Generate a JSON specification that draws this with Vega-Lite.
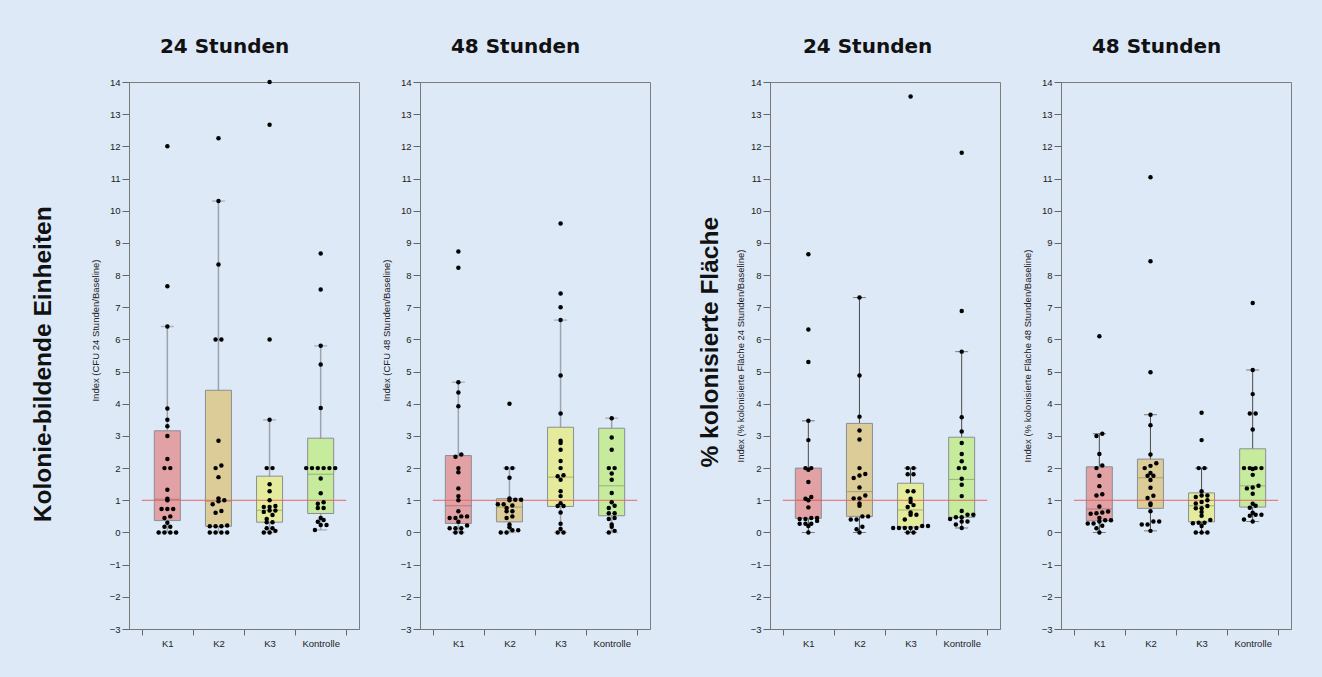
{
"$schema": "https://vega.github.io/schema/vega-lite/v6.json",
"background": "#dde9f7",
"padding": {"left": 31, "top": 36, "right": 31, "bottom": 32},
"spacing": 47,
"config": {
  "view": {"stroke": "#7d7d7d", "strokeWidth": 1},
  "title": {"font": "DejaVu Sans", "fontSize": 20, "fontWeight": "bold", "color": "#111111", "offset": 20, "frame": "bounds"},
  "concat": {"spacing": 20}
},
"datasets": {
"boxes": [
{"p":"cfu24","g":"K1","lo":0,"q1":0.37,"med":1.03,"q3":3.16,"hi":6.4},
{"p":"cfu24","g":"K2","lo":0,"q1":0.19,"med":0.97,"q3":4.42,"hi":10.3},
{"p":"cfu24","g":"K3","lo":0,"q1":0.32,"med":0.69,"q3":1.75,"hi":3.5},
{"p":"cfu24","g":"Kontrolle","lo":0.08,"q1":0.59,"med":1.81,"q3":2.93,"hi":5.8},
{"p":"cfu48","g":"K1","lo":0,"q1":0.28,"med":0.83,"q3":2.39,"hi":4.67},
{"p":"cfu48","g":"K2","lo":0,"q1":0.33,"med":0.79,"q3":1.05,"hi":2.0},
{"p":"cfu48","g":"K3","lo":0,"q1":0.81,"med":1.72,"q3":3.27,"hi":6.6},
{"p":"cfu48","g":"Kontrolle","lo":0,"q1":0.52,"med":1.45,"q3":3.24,"hi":3.55},
{"p":"fl24","g":"K1","lo":0,"q1":0.44,"med":1.0,"q3":2.0,"hi":3.47},
{"p":"fl24","g":"K2","lo":0,"q1":0.5,"med":1.27,"q3":3.39,"hi":7.3},
{"p":"fl24","g":"K3","lo":0,"q1":0.17,"med":0.7,"q3":1.53,"hi":2.0},
{"p":"fl24","g":"Kontrolle","lo":0.14,"q1":0.47,"med":1.65,"q3":2.96,"hi":5.62},
{"p":"fl48","g":"K1","lo":0,"q1":0.36,"med":0.73,"q3":2.04,"hi":3.07},
{"p":"fl48","g":"K2","lo":0.05,"q1":0.75,"med":1.7,"q3":2.28,"hi":3.66},
{"p":"fl48","g":"K3","lo":0,"q1":0.33,"med":0.83,"q3":1.23,"hi":2.0},
{"p":"fl48","g":"Kontrolle","lo":0.34,"q1":0.79,"med":1.45,"q3":2.6,"hi":5.05}
],
"points": [
{"p":"cfu24","g":"K1","v":12},{"p":"cfu24","g":"K1","v":7.65},{"p":"cfu24","g":"K1","v":6.4},{"p":"cfu24","g":"K1","v":3.85},{"p":"cfu24","g":"K1","v":3.5},{"p":"cfu24","g":"K1","v":3.3},{"p":"cfu24","g":"K1","v":3.0},{"p":"cfu24","g":"K1","v":2.28},{"p":"cfu24","g":"K1","v":2.0},{"p":"cfu24","g":"K1","v":2.0},{"p":"cfu24","g":"K1","v":1.33},{"p":"cfu24","g":"K1","v":1.05},{"p":"cfu24","g":"K1","v":1.0},{"p":"cfu24","g":"K1","v":0.73},{"p":"cfu24","g":"K1","v":0.73},{"p":"cfu24","g":"K1","v":0.73},{"p":"cfu24","g":"K1","v":0.5},{"p":"cfu24","g":"K1","v":0.45},{"p":"cfu24","g":"K1","v":0.3},{"p":"cfu24","g":"K1","v":0.18},{"p":"cfu24","g":"K1","v":0.18},{"p":"cfu24","g":"K1","v":0},{"p":"cfu24","g":"K1","v":0},{"p":"cfu24","g":"K1","v":0},{"p":"cfu24","g":"K1","v":0},
{"p":"cfu24","g":"K2","v":12.25},{"p":"cfu24","g":"K2","v":10.3},{"p":"cfu24","g":"K2","v":8.33},{"p":"cfu24","g":"K2","v":6.0},{"p":"cfu24","g":"K2","v":6.0},{"p":"cfu24","g":"K2","v":2.85},{"p":"cfu24","g":"K2","v":2.08},{"p":"cfu24","g":"K2","v":2.0},{"p":"cfu24","g":"K2","v":1.72},{"p":"cfu24","g":"K2","v":1.06},{"p":"cfu24","g":"K2","v":1.0},{"p":"cfu24","g":"K2","v":0.97},{"p":"cfu24","g":"K2","v":0.88},{"p":"cfu24","g":"K2","v":0.67},{"p":"cfu24","g":"K2","v":0.61},{"p":"cfu24","g":"K2","v":0.22},{"p":"cfu24","g":"K2","v":0.19},{"p":"cfu24","g":"K2","v":0.19},{"p":"cfu24","g":"K2","v":0.19},{"p":"cfu24","g":"K2","v":0},{"p":"cfu24","g":"K2","v":0},{"p":"cfu24","g":"K2","v":0},{"p":"cfu24","g":"K2","v":0},
{"p":"cfu24","g":"K3","v":14.0},{"p":"cfu24","g":"K3","v":12.67},{"p":"cfu24","g":"K3","v":6.0},{"p":"cfu24","g":"K3","v":3.5},{"p":"cfu24","g":"K3","v":2.0},{"p":"cfu24","g":"K3","v":2.0},{"p":"cfu24","g":"K3","v":1.5},{"p":"cfu24","g":"K3","v":1.28},{"p":"cfu24","g":"K3","v":1.0},{"p":"cfu24","g":"K3","v":0.82},{"p":"cfu24","g":"K3","v":0.79},{"p":"cfu24","g":"K3","v":0.79},{"p":"cfu24","g":"K3","v":0.68},{"p":"cfu24","g":"K3","v":0.68},{"p":"cfu24","g":"K3","v":0.64},{"p":"cfu24","g":"K3","v":0.54},{"p":"cfu24","g":"K3","v":0.42},{"p":"cfu24","g":"K3","v":0.32},{"p":"cfu24","g":"K3","v":0.32},{"p":"cfu24","g":"K3","v":0.13},{"p":"cfu24","g":"K3","v":0.13},{"p":"cfu24","g":"K3","v":0.05},{"p":"cfu24","g":"K3","v":0},{"p":"cfu24","g":"K3","v":0},
{"p":"cfu24","g":"Kontrolle","v":8.67},{"p":"cfu24","g":"Kontrolle","v":7.55},{"p":"cfu24","g":"Kontrolle","v":5.8},{"p":"cfu24","g":"Kontrolle","v":5.22},{"p":"cfu24","g":"Kontrolle","v":3.87},{"p":"cfu24","g":"Kontrolle","v":2.0},{"p":"cfu24","g":"Kontrolle","v":2.0},{"p":"cfu24","g":"Kontrolle","v":2.0},{"p":"cfu24","g":"Kontrolle","v":2.0},{"p":"cfu24","g":"Kontrolle","v":2.0},{"p":"cfu24","g":"Kontrolle","v":2.0},{"p":"cfu24","g":"Kontrolle","v":1.68},{"p":"cfu24","g":"Kontrolle","v":1.22},{"p":"cfu24","g":"Kontrolle","v":0.94},{"p":"cfu24","g":"Kontrolle","v":0.89},{"p":"cfu24","g":"Kontrolle","v":0.76},{"p":"cfu24","g":"Kontrolle","v":0.76},{"p":"cfu24","g":"Kontrolle","v":0.45},{"p":"cfu24","g":"Kontrolle","v":0.39},{"p":"cfu24","g":"Kontrolle","v":0.33},{"p":"cfu24","g":"Kontrolle","v":0.23},{"p":"cfu24","g":"Kontrolle","v":0.23},{"p":"cfu24","g":"Kontrolle","v":0.08},
{"p":"cfu48","g":"K1","v":8.73},{"p":"cfu48","g":"K1","v":8.23},{"p":"cfu48","g":"K1","v":4.67},{"p":"cfu48","g":"K1","v":4.35},{"p":"cfu48","g":"K1","v":3.92},{"p":"cfu48","g":"K1","v":2.42},{"p":"cfu48","g":"K1","v":2.35},{"p":"cfu48","g":"K1","v":2.0},{"p":"cfu48","g":"K1","v":1.87},{"p":"cfu48","g":"K1","v":1.37},{"p":"cfu48","g":"K1","v":1.13},{"p":"cfu48","g":"K1","v":1.0},{"p":"cfu48","g":"K1","v":0.66},{"p":"cfu48","g":"K1","v":0.5},{"p":"cfu48","g":"K1","v":0.5},{"p":"cfu48","g":"K1","v":0.45},{"p":"cfu48","g":"K1","v":0.45},{"p":"cfu48","g":"K1","v":0.33},{"p":"cfu48","g":"K1","v":0.22},{"p":"cfu48","g":"K1","v":0.13},{"p":"cfu48","g":"K1","v":0.13},{"p":"cfu48","g":"K1","v":0.13},{"p":"cfu48","g":"K1","v":0},{"p":"cfu48","g":"K1","v":0},
{"p":"cfu48","g":"K2","v":4.0},{"p":"cfu48","g":"K2","v":2.0},{"p":"cfu48","g":"K2","v":2.0},{"p":"cfu48","g":"K2","v":1.7},{"p":"cfu48","g":"K2","v":1.06},{"p":"cfu48","g":"K2","v":1.02},{"p":"cfu48","g":"K2","v":1.02},{"p":"cfu48","g":"K2","v":1.0},{"p":"cfu48","g":"K2","v":0.88},{"p":"cfu48","g":"K2","v":0.88},{"p":"cfu48","g":"K2","v":0.84},{"p":"cfu48","g":"K2","v":0.76},{"p":"cfu48","g":"K2","v":0.66},{"p":"cfu48","g":"K2","v":0.66},{"p":"cfu48","g":"K2","v":0.5},{"p":"cfu48","g":"K2","v":0.45},{"p":"cfu48","g":"K2","v":0.25},{"p":"cfu48","g":"K2","v":0.16},{"p":"cfu48","g":"K2","v":0.07},{"p":"cfu48","g":"K2","v":0.07},{"p":"cfu48","g":"K2","v":0},{"p":"cfu48","g":"K2","v":0},
{"p":"cfu48","g":"K3","v":9.6},{"p":"cfu48","g":"K3","v":7.43},{"p":"cfu48","g":"K3","v":7.0},{"p":"cfu48","g":"K3","v":6.6},{"p":"cfu48","g":"K3","v":4.88},{"p":"cfu48","g":"K3","v":3.7},{"p":"cfu48","g":"K3","v":2.85},{"p":"cfu48","g":"K3","v":2.78},{"p":"cfu48","g":"K3","v":2.57},{"p":"cfu48","g":"K3","v":2.22},{"p":"cfu48","g":"K3","v":2.0},{"p":"cfu48","g":"K3","v":1.78},{"p":"cfu48","g":"K3","v":1.75},{"p":"cfu48","g":"K3","v":1.64},{"p":"cfu48","g":"K3","v":1.28},{"p":"cfu48","g":"K3","v":1.13},{"p":"cfu48","g":"K3","v":0.91},{"p":"cfu48","g":"K3","v":0.82},{"p":"cfu48","g":"K3","v":0.82},{"p":"cfu48","g":"K3","v":0.62},{"p":"cfu48","g":"K3","v":0.27},{"p":"cfu48","g":"K3","v":0.11},{"p":"cfu48","g":"K3","v":0},{"p":"cfu48","g":"K3","v":0},
{"p":"cfu48","g":"Kontrolle","v":3.55},{"p":"cfu48","g":"Kontrolle","v":2.95},{"p":"cfu48","g":"Kontrolle","v":2.57},{"p":"cfu48","g":"Kontrolle","v":2.0},{"p":"cfu48","g":"Kontrolle","v":2.0},{"p":"cfu48","g":"Kontrolle","v":1.83},{"p":"cfu48","g":"Kontrolle","v":1.64},{"p":"cfu48","g":"Kontrolle","v":1.23},{"p":"cfu48","g":"Kontrolle","v":0.94},{"p":"cfu48","g":"Kontrolle","v":0.83},{"p":"cfu48","g":"Kontrolle","v":0.76},{"p":"cfu48","g":"Kontrolle","v":0.6},{"p":"cfu48","g":"Kontrolle","v":0.6},{"p":"cfu48","g":"Kontrolle","v":0.45},{"p":"cfu48","g":"Kontrolle","v":0.42},{"p":"cfu48","g":"Kontrolle","v":0.25},{"p":"cfu48","g":"Kontrolle","v":0.18},{"p":"cfu48","g":"Kontrolle","v":0.05},{"p":"cfu48","g":"Kontrolle","v":0},
{"p":"fl24","g":"K1","v":8.65},{"p":"fl24","g":"K1","v":6.31},{"p":"fl24","g":"K1","v":5.3},{"p":"fl24","g":"K1","v":3.47},{"p":"fl24","g":"K1","v":2.87},{"p":"fl24","g":"K1","v":2.0},{"p":"fl24","g":"K1","v":2.0},{"p":"fl24","g":"K1","v":1.95},{"p":"fl24","g":"K1","v":1.57},{"p":"fl24","g":"K1","v":1.1},{"p":"fl24","g":"K1","v":1.05},{"p":"fl24","g":"K1","v":1.0},{"p":"fl24","g":"K1","v":0.78},{"p":"fl24","g":"K1","v":0.45},{"p":"fl24","g":"K1","v":0.45},{"p":"fl24","g":"K1","v":0.42},{"p":"fl24","g":"K1","v":0.42},{"p":"fl24","g":"K1","v":0.36},{"p":"fl24","g":"K1","v":0.27},{"p":"fl24","g":"K1","v":0.27},{"p":"fl24","g":"K1","v":0.27},{"p":"fl24","g":"K1","v":0.2},{"p":"fl24","g":"K1","v":0},
{"p":"fl24","g":"K2","v":7.3},{"p":"fl24","g":"K2","v":4.88},{"p":"fl24","g":"K2","v":3.6},{"p":"fl24","g":"K2","v":3.17},{"p":"fl24","g":"K2","v":2.89},{"p":"fl24","g":"K2","v":2.0},{"p":"fl24","g":"K2","v":1.82},{"p":"fl24","g":"K2","v":1.77},{"p":"fl24","g":"K2","v":1.69},{"p":"fl24","g":"K2","v":1.4},{"p":"fl24","g":"K2","v":1.15},{"p":"fl24","g":"K2","v":1.06},{"p":"fl24","g":"K2","v":1.06},{"p":"fl24","g":"K2","v":0.9},{"p":"fl24","g":"K2","v":0.83},{"p":"fl24","g":"K2","v":0.5},{"p":"fl24","g":"K2","v":0.5},{"p":"fl24","g":"K2","v":0.4},{"p":"fl24","g":"K2","v":0.4},{"p":"fl24","g":"K2","v":0.18},{"p":"fl24","g":"K2","v":0.1},{"p":"fl24","g":"K2","v":0},
{"p":"fl24","g":"K3","v":13.55},{"p":"fl24","g":"K3","v":2.0},{"p":"fl24","g":"K3","v":2.0},{"p":"fl24","g":"K3","v":1.81},{"p":"fl24","g":"K3","v":1.81},{"p":"fl24","g":"K3","v":1.28},{"p":"fl24","g":"K3","v":1.28},{"p":"fl24","g":"K3","v":1.05},{"p":"fl24","g":"K3","v":0.95},{"p":"fl24","g":"K3","v":0.85},{"p":"fl24","g":"K3","v":0.79},{"p":"fl24","g":"K3","v":0.62},{"p":"fl24","g":"K3","v":0.55},{"p":"fl24","g":"K3","v":0.55},{"p":"fl24","g":"K3","v":0.4},{"p":"fl24","g":"K3","v":0.2},{"p":"fl24","g":"K3","v":0.2},{"p":"fl24","g":"K3","v":0.14},{"p":"fl24","g":"K3","v":0.14},{"p":"fl24","g":"K3","v":0.14},{"p":"fl24","g":"K3","v":0.14},{"p":"fl24","g":"K3","v":0.14},{"p":"fl24","g":"K3","v":0},{"p":"fl24","g":"K3","v":0},
{"p":"fl24","g":"Kontrolle","v":11.8},{"p":"fl24","g":"Kontrolle","v":6.88},{"p":"fl24","g":"Kontrolle","v":5.62},{"p":"fl24","g":"Kontrolle","v":3.58},{"p":"fl24","g":"Kontrolle","v":3.14},{"p":"fl24","g":"Kontrolle","v":2.78},{"p":"fl24","g":"Kontrolle","v":2.44},{"p":"fl24","g":"Kontrolle","v":2.21},{"p":"fl24","g":"Kontrolle","v":2.0},{"p":"fl24","g":"Kontrolle","v":2.0},{"p":"fl24","g":"Kontrolle","v":1.67},{"p":"fl24","g":"Kontrolle","v":1.48},{"p":"fl24","g":"Kontrolle","v":1.13},{"p":"fl24","g":"Kontrolle","v":0.67},{"p":"fl24","g":"Kontrolle","v":0.55},{"p":"fl24","g":"Kontrolle","v":0.55},{"p":"fl24","g":"Kontrolle","v":0.47},{"p":"fl24","g":"Kontrolle","v":0.47},{"p":"fl24","g":"Kontrolle","v":0.42},{"p":"fl24","g":"Kontrolle","v":0.34},{"p":"fl24","g":"Kontrolle","v":0.34},{"p":"fl24","g":"Kontrolle","v":0.25},{"p":"fl24","g":"Kontrolle","v":0.14},
{"p":"fl48","g":"K1","v":6.1},{"p":"fl48","g":"K1","v":3.07},{"p":"fl48","g":"K1","v":3.0},{"p":"fl48","g":"K1","v":2.44},{"p":"fl48","g":"K1","v":2.08},{"p":"fl48","g":"K1","v":2.0},{"p":"fl48","g":"K1","v":1.76},{"p":"fl48","g":"K1","v":1.44},{"p":"fl48","g":"K1","v":1.19},{"p":"fl48","g":"K1","v":1.15},{"p":"fl48","g":"K1","v":0.81},{"p":"fl48","g":"K1","v":0.65},{"p":"fl48","g":"K1","v":0.62},{"p":"fl48","g":"K1","v":0.6},{"p":"fl48","g":"K1","v":0.58},{"p":"fl48","g":"K1","v":0.45},{"p":"fl48","g":"K1","v":0.38},{"p":"fl48","g":"K1","v":0.38},{"p":"fl48","g":"K1","v":0.34},{"p":"fl48","g":"K1","v":0.28},{"p":"fl48","g":"K1","v":0.28},{"p":"fl48","g":"K1","v":0.21},{"p":"fl48","g":"K1","v":0.13},{"p":"fl48","g":"K1","v":0},
{"p":"fl48","g":"K2","v":11.04},{"p":"fl48","g":"K2","v":8.43},{"p":"fl48","g":"K2","v":4.98},{"p":"fl48","g":"K2","v":3.66},{"p":"fl48","g":"K2","v":3.33},{"p":"fl48","g":"K2","v":2.42},{"p":"fl48","g":"K2","v":2.15},{"p":"fl48","g":"K2","v":2.07},{"p":"fl48","g":"K2","v":2.0},{"p":"fl48","g":"K2","v":1.85},{"p":"fl48","g":"K2","v":1.76},{"p":"fl48","g":"K2","v":1.76},{"p":"fl48","g":"K2","v":1.63},{"p":"fl48","g":"K2","v":1.39},{"p":"fl48","g":"K2","v":1.14},{"p":"fl48","g":"K2","v":1.07},{"p":"fl48","g":"K2","v":0.9},{"p":"fl48","g":"K2","v":0.85},{"p":"fl48","g":"K2","v":0.66},{"p":"fl48","g":"K2","v":0.34},{"p":"fl48","g":"K2","v":0.34},{"p":"fl48","g":"K2","v":0.25},{"p":"fl48","g":"K2","v":0.25},{"p":"fl48","g":"K2","v":0.05},
{"p":"fl48","g":"K3","v":3.72},{"p":"fl48","g":"K3","v":2.87},{"p":"fl48","g":"K3","v":2.0},{"p":"fl48","g":"K3","v":2.0},{"p":"fl48","g":"K3","v":1.28},{"p":"fl48","g":"K3","v":1.15},{"p":"fl48","g":"K3","v":1.15},{"p":"fl48","g":"K3","v":1.1},{"p":"fl48","g":"K3","v":1.0},{"p":"fl48","g":"K3","v":0.95},{"p":"fl48","g":"K3","v":0.9},{"p":"fl48","g":"K3","v":0.82},{"p":"fl48","g":"K3","v":0.75},{"p":"fl48","g":"K3","v":0.75},{"p":"fl48","g":"K3","v":0.64},{"p":"fl48","g":"K3","v":0.52},{"p":"fl48","g":"K3","v":0.39},{"p":"fl48","g":"K3","v":0.3},{"p":"fl48","g":"K3","v":0.3},{"p":"fl48","g":"K3","v":0.29},{"p":"fl48","g":"K3","v":0.2},{"p":"fl48","g":"K3","v":0},{"p":"fl48","g":"K3","v":0},{"p":"fl48","g":"K3","v":0},
{"p":"fl48","g":"Kontrolle","v":7.13},{"p":"fl48","g":"Kontrolle","v":5.05},{"p":"fl48","g":"Kontrolle","v":4.3},{"p":"fl48","g":"Kontrolle","v":3.7},{"p":"fl48","g":"Kontrolle","v":3.7},{"p":"fl48","g":"Kontrolle","v":3.2},{"p":"fl48","g":"Kontrolle","v":2.0},{"p":"fl48","g":"Kontrolle","v":2.0},{"p":"fl48","g":"Kontrolle","v":2.0},{"p":"fl48","g":"Kontrolle","v":2.0},{"p":"fl48","g":"Kontrolle","v":1.97},{"p":"fl48","g":"Kontrolle","v":1.79},{"p":"fl48","g":"Kontrolle","v":1.45},{"p":"fl48","g":"Kontrolle","v":1.4},{"p":"fl48","g":"Kontrolle","v":1.37},{"p":"fl48","g":"Kontrolle","v":1.2},{"p":"fl48","g":"Kontrolle","v":0.89},{"p":"fl48","g":"Kontrolle","v":0.83},{"p":"fl48","g":"Kontrolle","v":0.77},{"p":"fl48","g":"Kontrolle","v":0.61},{"p":"fl48","g":"Kontrolle","v":0.55},{"p":"fl48","g":"Kontrolle","v":0.55},{"p":"fl48","g":"Kontrolle","v":0.52},{"p":"fl48","g":"Kontrolle","v":0.4},{"p":"fl48","g":"Kontrolle","v":0.34}
]
},
"hconcat": [
{
 "title": {"text": "Kolonie-bildende Einheiten", "orient": "left", "font": "Liberation Sans", "fontSize": 24.5, "fontWeight": "bold", "color": "#111111", "offset": 33, "anchor": "middle", "dx": -22},
 "spacing": 20,
 "hconcat": [
  {
   "width": 230, "height": 547,
   "title": {"text": "24 Stunden"},
   "encoding": {"x": {"field": "g", "type": "nominal", "title": null, "scale": {"domain": ["K1","K2","K3","Kontrolle"], "paddingInner": 0, "paddingOuter": 0.25}, "axis": {"labelAngle": 0, "tickBand": "extent", "tickSize": 6, "tickColor": "#666666", "domainColor": "#777777", "labelFont": "Liberation Sans", "labelFontSize": 9.5, "labelColor": "#222222", "labelPadding": 3}}},
   "layer": [
    {"data": {"name": "boxes"}, "transform": [{"filter": "datum.p === 'cfu24'"}], "mark": {"type": "rule", "color": "#9ba3ad", "strokeWidth": 1.5},
     "encoding": {"y": {"field": "lo", "type": "quantitative", "scale": {"domain": [-3, 14], "nice": false, "zero": false}, "title": "Index (CFU 24 Stunden/Baseline)", "axis": {"values": [-3,-2.5,-2,-1.5,-1,-0.5,0,0.5,1,1.5,2,2.5,3,3.5,4,4.5,5,5.5,6,6.5,7,7.5,8,8.5,9,9.5,10,10.5,11,11.5,12,12.5,13,13.5,14], "format": "d", "labelExpr": "datum.value % 1 === 0 ? datum.label : ''", "tickSize": {"condition": {"test": "datum.value % 1 !== 0", "value": 4}, "value": 7}, "grid": false, "labelFont": "Liberation Sans", "labelFontSize": 9.5, "labelColor": "#222222", "labelPadding": 2, "tickColor": "#666666", "domainColor": "#777777", "titleFont": "Liberation Sans", "titleFontSize": 9.5, "titleFontWeight": "normal", "titleColor": "#222222", "titlePadding": 9, "titleY": 248}}, "y2": {"field": "hi"}}},
    {"data": {"name": "boxes"}, "transform": [{"filter": "datum.p === 'cfu24'"}], "mark": {"type": "tick", "color": "#9ba3ad", "size": 13, "thickness": 1.5},
     "encoding": {"y": {"field": "lo", "type": "quantitative", "scale": {"domain": [-3, 14], "nice": false, "zero": false}, "title": "Index (CFU 24 Stunden/Baseline)", "axis": {"values": [-3,-2.5,-2,-1.5,-1,-0.5,0,0.5,1,1.5,2,2.5,3,3.5,4,4.5,5,5.5,6,6.5,7,7.5,8,8.5,9,9.5,10,10.5,11,11.5,12,12.5,13,13.5,14], "format": "d", "labelExpr": "datum.value % 1 === 0 ? datum.label : ''", "tickSize": {"condition": {"test": "datum.value % 1 !== 0", "value": 4}, "value": 7}, "grid": false, "labelFont": "Liberation Sans", "labelFontSize": 9.5, "labelColor": "#222222", "labelPadding": 2, "tickColor": "#666666", "domainColor": "#777777", "titleFont": "Liberation Sans", "titleFontSize": 9.5, "titleFontWeight": "normal", "titleColor": "#222222", "titlePadding": 9, "titleY": 248}}}},
    {"data": {"name": "boxes"}, "transform": [{"filter": "datum.p === 'cfu24'"}], "mark": {"type": "tick", "color": "#9ba3ad", "size": 13, "thickness": 1.5},
     "encoding": {"y": {"field": "hi", "type": "quantitative", "scale": {"domain": [-3, 14], "nice": false, "zero": false}, "title": "Index (CFU 24 Stunden/Baseline)", "axis": {"values": [-3,-2.5,-2,-1.5,-1,-0.5,0,0.5,1,1.5,2,2.5,3,3.5,4,4.5,5,5.5,6,6.5,7,7.5,8,8.5,9,9.5,10,10.5,11,11.5,12,12.5,13,13.5,14], "format": "d", "labelExpr": "datum.value % 1 === 0 ? datum.label : ''", "tickSize": {"condition": {"test": "datum.value % 1 !== 0", "value": 4}, "value": 7}, "grid": false, "labelFont": "Liberation Sans", "labelFontSize": 9.5, "labelColor": "#222222", "labelPadding": 2, "tickColor": "#666666", "domainColor": "#777777", "titleFont": "Liberation Sans", "titleFontSize": 9.5, "titleFontWeight": "normal", "titleColor": "#222222", "titlePadding": 9, "titleY": 248}}}},
    {"data": {"name": "boxes"}, "transform": [{"filter": "datum.p === 'cfu24'"}], "mark": {"type": "bar", "width": 26, "stroke": "#8a8f96", "strokeWidth": 1},
     "encoding": {"y": {"field": "q1", "type": "quantitative", "scale": {"domain": [-3, 14], "nice": false, "zero": false}, "title": "Index (CFU 24 Stunden/Baseline)", "axis": {"values": [-3,-2.5,-2,-1.5,-1,-0.5,0,0.5,1,1.5,2,2.5,3,3.5,4,4.5,5,5.5,6,6.5,7,7.5,8,8.5,9,9.5,10,10.5,11,11.5,12,12.5,13,13.5,14], "format": "d", "labelExpr": "datum.value % 1 === 0 ? datum.label : ''", "tickSize": {"condition": {"test": "datum.value % 1 !== 0", "value": 4}, "value": 7}, "grid": false, "labelFont": "Liberation Sans", "labelFontSize": 9.5, "labelColor": "#222222", "labelPadding": 2, "tickColor": "#666666", "domainColor": "#777777", "titleFont": "Liberation Sans", "titleFontSize": 9.5, "titleFontWeight": "normal", "titleColor": "#222222", "titlePadding": 9, "titleY": 248}}, "y2": {"field": "q3"},
      "color": {"field": "g", "type": "nominal", "scale": {"domain": ["K1","K2","K3","Kontrolle"], "range": ["#e2a1a4","#dccc97","#e4eb9c","#c6eb9d"]}, "legend": null}}},
    {"data": {"name": "boxes"}, "transform": [{"filter": "datum.p === 'cfu24'"}], "mark": {"type": "tick", "size": 26, "thickness": 1},
     "encoding": {"y": {"field": "med", "type": "quantitative", "scale": {"domain": [-3, 14], "nice": false, "zero": false}, "title": "Index (CFU 24 Stunden/Baseline)", "axis": {"values": [-3,-2.5,-2,-1.5,-1,-0.5,0,0.5,1,1.5,2,2.5,3,3.5,4,4.5,5,5.5,6,6.5,7,7.5,8,8.5,9,9.5,10,10.5,11,11.5,12,12.5,13,13.5,14], "format": "d", "labelExpr": "datum.value % 1 === 0 ? datum.label : ''", "tickSize": {"condition": {"test": "datum.value % 1 !== 0", "value": 4}, "value": 7}, "grid": false, "labelFont": "Liberation Sans", "labelFontSize": 9.5, "labelColor": "#222222", "labelPadding": 2, "tickColor": "#666666", "domainColor": "#777777", "titleFont": "Liberation Sans", "titleFontSize": 9.5, "titleFontWeight": "normal", "titleColor": "#222222", "titlePadding": 9, "titleY": 248}},
      "fill": {"field": "g", "type": "nominal", "scale": {"domain": ["K1","K2","K3","Kontrolle"], "range": ["#9d6b6d","#9c8c5c","#93995c","#7f9c62"]}, "legend": null}}},
    {"data": {"values": [{}]}, "mark": {"type": "rule", "color": "#e06a66", "strokeWidth": 1},
     "encoding": {"x": {"datum": "K1", "type": "nominal", "bandPosition": 0}, "x2": {"datum": "Kontrolle", "bandPosition": 1}, "y": {"datum": 1, "type": "quantitative", "scale": {"domain": [-3, 14], "nice": false, "zero": false}, "title": "Index (CFU 24 Stunden/Baseline)", "axis": {"values": [-3,-2.5,-2,-1.5,-1,-0.5,0,0.5,1,1.5,2,2.5,3,3.5,4,4.5,5,5.5,6,6.5,7,7.5,8,8.5,9,9.5,10,10.5,11,11.5,12,12.5,13,13.5,14], "format": "d", "labelExpr": "datum.value % 1 === 0 ? datum.label : ''", "tickSize": {"condition": {"test": "datum.value % 1 !== 0", "value": 4}, "value": 7}, "grid": false, "labelFont": "Liberation Sans", "labelFontSize": 9.5, "labelColor": "#222222", "labelPadding": 2, "tickColor": "#666666", "domainColor": "#777777", "titleFont": "Liberation Sans", "titleFontSize": 9.5, "titleFontWeight": "normal", "titleColor": "#222222", "titlePadding": 9, "titleY": 248}}}},
    {"data": {"name": "points"}, "transform": [{"filter": "datum.p === 'cfu24'"}, {"calculate": "round(datum.v / 0.16)", "as": "bin"}, {"window": [{"op": "row_number", "as": "rk"}], "groupby": ["g", "bin"], "sort": [{"field": "v", "order": "ascending"}]}, {"joinaggregate": [{"op": "count", "as": "n"}], "groupby": ["g", "bin"]}, {"calculate": "datum.rk - (datum.n + 1) / 2", "as": "off"}],
     "mark": {"type": "circle", "color": "#000000", "size": 20, "opacity": 1},
     "encoding": {"y": {"field": "v", "type": "quantitative", "scale": {"domain": [-3, 14], "nice": false, "zero": false}, "title": "Index (CFU 24 Stunden/Baseline)", "axis": {"values": [-3,-2.5,-2,-1.5,-1,-0.5,0,0.5,1,1.5,2,2.5,3,3.5,4,4.5,5,5.5,6,6.5,7,7.5,8,8.5,9,9.5,10,10.5,11,11.5,12,12.5,13,13.5,14], "format": "d", "labelExpr": "datum.value % 1 === 0 ? datum.label : ''", "tickSize": {"condition": {"test": "datum.value % 1 !== 0", "value": 4}, "value": 7}, "grid": false, "labelFont": "Liberation Sans", "labelFontSize": 9.5, "labelColor": "#222222", "labelPadding": 2, "tickColor": "#666666", "domainColor": "#777777", "titleFont": "Liberation Sans", "titleFontSize": 9.5, "titleFontWeight": "normal", "titleColor": "#222222", "titlePadding": 9, "titleY": 248}},
      "xOffset": {"field": "off", "type": "quantitative", "scale": {"domain": [-5, 5], "range": [-3.45, 54.65]}}}}
   ]
  },
  {
   "width": 230, "height": 547,
   "title": {"text": "48 Stunden"},
   "encoding": {"x": {"field": "g", "type": "nominal", "title": null, "scale": {"domain": ["K1","K2","K3","Kontrolle"], "paddingInner": 0, "paddingOuter": 0.25}, "axis": {"labelAngle": 0, "tickBand": "extent", "tickSize": 6, "tickColor": "#666666", "domainColor": "#777777", "labelFont": "Liberation Sans", "labelFontSize": 9.5, "labelColor": "#222222", "labelPadding": 3}}},
   "layer": [
    {"data": {"name": "boxes"}, "transform": [{"filter": "datum.p === 'cfu48'"}], "mark": {"type": "rule", "color": "#9ba3ad", "strokeWidth": 1.5},
     "encoding": {"y": {"field": "lo", "type": "quantitative", "scale": {"domain": [-3, 14], "nice": false, "zero": false}, "title": "Index (CFU 48 Stunden/Baseline)", "axis": {"values": [-3,-2.5,-2,-1.5,-1,-0.5,0,0.5,1,1.5,2,2.5,3,3.5,4,4.5,5,5.5,6,6.5,7,7.5,8,8.5,9,9.5,10,10.5,11,11.5,12,12.5,13,13.5,14], "format": "d", "labelExpr": "datum.value % 1 === 0 ? datum.label : ''", "tickSize": {"condition": {"test": "datum.value % 1 !== 0", "value": 4}, "value": 7}, "grid": false, "labelFont": "Liberation Sans", "labelFontSize": 9.5, "labelColor": "#222222", "labelPadding": 2, "tickColor": "#666666", "domainColor": "#777777", "titleFont": "Liberation Sans", "titleFontSize": 9.5, "titleFontWeight": "normal", "titleColor": "#222222", "titlePadding": 9, "titleY": 248}}, "y2": {"field": "hi"}}},
    {"data": {"name": "boxes"}, "transform": [{"filter": "datum.p === 'cfu48'"}], "mark": {"type": "tick", "color": "#9ba3ad", "size": 13, "thickness": 1.5},
     "encoding": {"y": {"field": "lo", "type": "quantitative", "scale": {"domain": [-3, 14], "nice": false, "zero": false}, "title": "Index (CFU 48 Stunden/Baseline)", "axis": {"values": [-3,-2.5,-2,-1.5,-1,-0.5,0,0.5,1,1.5,2,2.5,3,3.5,4,4.5,5,5.5,6,6.5,7,7.5,8,8.5,9,9.5,10,10.5,11,11.5,12,12.5,13,13.5,14], "format": "d", "labelExpr": "datum.value % 1 === 0 ? datum.label : ''", "tickSize": {"condition": {"test": "datum.value % 1 !== 0", "value": 4}, "value": 7}, "grid": false, "labelFont": "Liberation Sans", "labelFontSize": 9.5, "labelColor": "#222222", "labelPadding": 2, "tickColor": "#666666", "domainColor": "#777777", "titleFont": "Liberation Sans", "titleFontSize": 9.5, "titleFontWeight": "normal", "titleColor": "#222222", "titlePadding": 9, "titleY": 248}}}},
    {"data": {"name": "boxes"}, "transform": [{"filter": "datum.p === 'cfu48'"}], "mark": {"type": "tick", "color": "#9ba3ad", "size": 13, "thickness": 1.5},
     "encoding": {"y": {"field": "hi", "type": "quantitative", "scale": {"domain": [-3, 14], "nice": false, "zero": false}, "title": "Index (CFU 48 Stunden/Baseline)", "axis": {"values": [-3,-2.5,-2,-1.5,-1,-0.5,0,0.5,1,1.5,2,2.5,3,3.5,4,4.5,5,5.5,6,6.5,7,7.5,8,8.5,9,9.5,10,10.5,11,11.5,12,12.5,13,13.5,14], "format": "d", "labelExpr": "datum.value % 1 === 0 ? datum.label : ''", "tickSize": {"condition": {"test": "datum.value % 1 !== 0", "value": 4}, "value": 7}, "grid": false, "labelFont": "Liberation Sans", "labelFontSize": 9.5, "labelColor": "#222222", "labelPadding": 2, "tickColor": "#666666", "domainColor": "#777777", "titleFont": "Liberation Sans", "titleFontSize": 9.5, "titleFontWeight": "normal", "titleColor": "#222222", "titlePadding": 9, "titleY": 248}}}},
    {"data": {"name": "boxes"}, "transform": [{"filter": "datum.p === 'cfu48'"}], "mark": {"type": "bar", "width": 26, "stroke": "#8a8f96", "strokeWidth": 1},
     "encoding": {"y": {"field": "q1", "type": "quantitative", "scale": {"domain": [-3, 14], "nice": false, "zero": false}, "title": "Index (CFU 48 Stunden/Baseline)", "axis": {"values": [-3,-2.5,-2,-1.5,-1,-0.5,0,0.5,1,1.5,2,2.5,3,3.5,4,4.5,5,5.5,6,6.5,7,7.5,8,8.5,9,9.5,10,10.5,11,11.5,12,12.5,13,13.5,14], "format": "d", "labelExpr": "datum.value % 1 === 0 ? datum.label : ''", "tickSize": {"condition": {"test": "datum.value % 1 !== 0", "value": 4}, "value": 7}, "grid": false, "labelFont": "Liberation Sans", "labelFontSize": 9.5, "labelColor": "#222222", "labelPadding": 2, "tickColor": "#666666", "domainColor": "#777777", "titleFont": "Liberation Sans", "titleFontSize": 9.5, "titleFontWeight": "normal", "titleColor": "#222222", "titlePadding": 9, "titleY": 248}}, "y2": {"field": "q3"},
      "color": {"field": "g", "type": "nominal", "scale": {"domain": ["K1","K2","K3","Kontrolle"], "range": ["#e2a1a4","#dccc97","#e4eb9c","#c6eb9d"]}, "legend": null}}},
    {"data": {"name": "boxes"}, "transform": [{"filter": "datum.p === 'cfu48'"}], "mark": {"type": "tick", "size": 26, "thickness": 1},
     "encoding": {"y": {"field": "med", "type": "quantitative", "scale": {"domain": [-3, 14], "nice": false, "zero": false}, "title": "Index (CFU 48 Stunden/Baseline)", "axis": {"values": [-3,-2.5,-2,-1.5,-1,-0.5,0,0.5,1,1.5,2,2.5,3,3.5,4,4.5,5,5.5,6,6.5,7,7.5,8,8.5,9,9.5,10,10.5,11,11.5,12,12.5,13,13.5,14], "format": "d", "labelExpr": "datum.value % 1 === 0 ? datum.label : ''", "tickSize": {"condition": {"test": "datum.value % 1 !== 0", "value": 4}, "value": 7}, "grid": false, "labelFont": "Liberation Sans", "labelFontSize": 9.5, "labelColor": "#222222", "labelPadding": 2, "tickColor": "#666666", "domainColor": "#777777", "titleFont": "Liberation Sans", "titleFontSize": 9.5, "titleFontWeight": "normal", "titleColor": "#222222", "titlePadding": 9, "titleY": 248}},
      "fill": {"field": "g", "type": "nominal", "scale": {"domain": ["K1","K2","K3","Kontrolle"], "range": ["#9d6b6d","#9c8c5c","#93995c","#7f9c62"]}, "legend": null}}},
    {"data": {"values": [{}]}, "mark": {"type": "rule", "color": "#e06a66", "strokeWidth": 1},
     "encoding": {"x": {"datum": "K1", "type": "nominal", "bandPosition": 0}, "x2": {"datum": "Kontrolle", "bandPosition": 1}, "y": {"datum": 1, "type": "quantitative", "scale": {"domain": [-3, 14], "nice": false, "zero": false}, "title": "Index (CFU 48 Stunden/Baseline)", "axis": {"values": [-3,-2.5,-2,-1.5,-1,-0.5,0,0.5,1,1.5,2,2.5,3,3.5,4,4.5,5,5.5,6,6.5,7,7.5,8,8.5,9,9.5,10,10.5,11,11.5,12,12.5,13,13.5,14], "format": "d", "labelExpr": "datum.value % 1 === 0 ? datum.label : ''", "tickSize": {"condition": {"test": "datum.value % 1 !== 0", "value": 4}, "value": 7}, "grid": false, "labelFont": "Liberation Sans", "labelFontSize": 9.5, "labelColor": "#222222", "labelPadding": 2, "tickColor": "#666666", "domainColor": "#777777", "titleFont": "Liberation Sans", "titleFontSize": 9.5, "titleFontWeight": "normal", "titleColor": "#222222", "titlePadding": 9, "titleY": 248}}}},
    {"data": {"name": "points"}, "transform": [{"filter": "datum.p === 'cfu48'"}, {"calculate": "round(datum.v / 0.16)", "as": "bin"}, {"window": [{"op": "row_number", "as": "rk"}], "groupby": ["g", "bin"], "sort": [{"field": "v", "order": "ascending"}]}, {"joinaggregate": [{"op": "count", "as": "n"}], "groupby": ["g", "bin"]}, {"calculate": "datum.rk - (datum.n + 1) / 2", "as": "off"}],
     "mark": {"type": "circle", "color": "#000000", "size": 20, "opacity": 1},
     "encoding": {"y": {"field": "v", "type": "quantitative", "scale": {"domain": [-3, 14], "nice": false, "zero": false}, "title": "Index (CFU 48 Stunden/Baseline)", "axis": {"values": [-3,-2.5,-2,-1.5,-1,-0.5,0,0.5,1,1.5,2,2.5,3,3.5,4,4.5,5,5.5,6,6.5,7,7.5,8,8.5,9,9.5,10,10.5,11,11.5,12,12.5,13,13.5,14], "format": "d", "labelExpr": "datum.value % 1 === 0 ? datum.label : ''", "tickSize": {"condition": {"test": "datum.value % 1 !== 0", "value": 4}, "value": 7}, "grid": false, "labelFont": "Liberation Sans", "labelFontSize": 9.5, "labelColor": "#222222", "labelPadding": 2, "tickColor": "#666666", "domainColor": "#777777", "titleFont": "Liberation Sans", "titleFontSize": 9.5, "titleFontWeight": "normal", "titleColor": "#222222", "titlePadding": 9, "titleY": 248}},
      "xOffset": {"field": "off", "type": "quantitative", "scale": {"domain": [-5, 5], "range": [-3.45, 54.65]}}}}
   ]
  }
 ]
},
{
 "title": {"text": "% kolonisierte Fläche", "orient": "left", "font": "Liberation Sans", "fontSize": 24.5, "fontWeight": "bold", "color": "#111111", "offset": 11, "anchor": "middle"},
 "spacing": 20,
 "hconcat": [
  {
   "width": 230, "height": 547,
   "title": {"text": "24 Stunden"},
   "encoding": {"x": {"field": "g", "type": "nominal", "title": null, "scale": {"domain": ["K1","K2","K3","Kontrolle"], "paddingInner": 0, "paddingOuter": 0.25}, "axis": {"labelAngle": 0, "tickBand": "extent", "tickSize": 6, "tickColor": "#666666", "domainColor": "#777777", "labelFont": "Liberation Sans", "labelFontSize": 9.5, "labelColor": "#222222", "labelPadding": 3}}},
   "layer": [
    {"data": {"name": "boxes"}, "transform": [{"filter": "datum.p === 'fl24'"}], "mark": {"type": "rule", "color": "#4a4a4a", "strokeWidth": 1},
     "encoding": {"y": {"field": "lo", "type": "quantitative", "scale": {"domain": [-3, 14], "nice": false, "zero": false}, "title": "Index (% kolonisierte Fläche 24 Stunden/Baseline)", "axis": {"values": [-3,-2.5,-2,-1.5,-1,-0.5,0,0.5,1,1.5,2,2.5,3,3.5,4,4.5,5,5.5,6,6.5,7,7.5,8,8.5,9,9.5,10,10.5,11,11.5,12,12.5,13,13.5,14], "format": "d", "labelExpr": "datum.value % 1 === 0 ? datum.label : ''", "tickSize": {"condition": {"test": "datum.value % 1 !== 0", "value": 4}, "value": 7}, "grid": false, "labelFont": "Liberation Sans", "labelFontSize": 9.5, "labelColor": "#222222", "labelPadding": 2, "tickColor": "#666666", "domainColor": "#777777", "titleFont": "Liberation Sans", "titleFontSize": 9.5, "titleFontWeight": "normal", "titleColor": "#222222", "titlePadding": 5}}, "y2": {"field": "hi"}}},
    {"data": {"name": "boxes"}, "transform": [{"filter": "datum.p === 'fl24'"}], "mark": {"type": "tick", "color": "#4a4a4a", "size": 13, "thickness": 1},
     "encoding": {"y": {"field": "lo", "type": "quantitative", "scale": {"domain": [-3, 14], "nice": false, "zero": false}, "title": "Index (% kolonisierte Fläche 24 Stunden/Baseline)", "axis": {"values": [-3,-2.5,-2,-1.5,-1,-0.5,0,0.5,1,1.5,2,2.5,3,3.5,4,4.5,5,5.5,6,6.5,7,7.5,8,8.5,9,9.5,10,10.5,11,11.5,12,12.5,13,13.5,14], "format": "d", "labelExpr": "datum.value % 1 === 0 ? datum.label : ''", "tickSize": {"condition": {"test": "datum.value % 1 !== 0", "value": 4}, "value": 7}, "grid": false, "labelFont": "Liberation Sans", "labelFontSize": 9.5, "labelColor": "#222222", "labelPadding": 2, "tickColor": "#666666", "domainColor": "#777777", "titleFont": "Liberation Sans", "titleFontSize": 9.5, "titleFontWeight": "normal", "titleColor": "#222222", "titlePadding": 5}}}},
    {"data": {"name": "boxes"}, "transform": [{"filter": "datum.p === 'fl24'"}], "mark": {"type": "tick", "color": "#4a4a4a", "size": 13, "thickness": 1},
     "encoding": {"y": {"field": "hi", "type": "quantitative", "scale": {"domain": [-3, 14], "nice": false, "zero": false}, "title": "Index (% kolonisierte Fläche 24 Stunden/Baseline)", "axis": {"values": [-3,-2.5,-2,-1.5,-1,-0.5,0,0.5,1,1.5,2,2.5,3,3.5,4,4.5,5,5.5,6,6.5,7,7.5,8,8.5,9,9.5,10,10.5,11,11.5,12,12.5,13,13.5,14], "format": "d", "labelExpr": "datum.value % 1 === 0 ? datum.label : ''", "tickSize": {"condition": {"test": "datum.value % 1 !== 0", "value": 4}, "value": 7}, "grid": false, "labelFont": "Liberation Sans", "labelFontSize": 9.5, "labelColor": "#222222", "labelPadding": 2, "tickColor": "#666666", "domainColor": "#777777", "titleFont": "Liberation Sans", "titleFontSize": 9.5, "titleFontWeight": "normal", "titleColor": "#222222", "titlePadding": 5}}}},
    {"data": {"name": "boxes"}, "transform": [{"filter": "datum.p === 'fl24'"}], "mark": {"type": "bar", "width": 26, "stroke": "#8a8f96", "strokeWidth": 1},
     "encoding": {"y": {"field": "q1", "type": "quantitative", "scale": {"domain": [-3, 14], "nice": false, "zero": false}, "title": "Index (% kolonisierte Fläche 24 Stunden/Baseline)", "axis": {"values": [-3,-2.5,-2,-1.5,-1,-0.5,0,0.5,1,1.5,2,2.5,3,3.5,4,4.5,5,5.5,6,6.5,7,7.5,8,8.5,9,9.5,10,10.5,11,11.5,12,12.5,13,13.5,14], "format": "d", "labelExpr": "datum.value % 1 === 0 ? datum.label : ''", "tickSize": {"condition": {"test": "datum.value % 1 !== 0", "value": 4}, "value": 7}, "grid": false, "labelFont": "Liberation Sans", "labelFontSize": 9.5, "labelColor": "#222222", "labelPadding": 2, "tickColor": "#666666", "domainColor": "#777777", "titleFont": "Liberation Sans", "titleFontSize": 9.5, "titleFontWeight": "normal", "titleColor": "#222222", "titlePadding": 5}}, "y2": {"field": "q3"},
      "color": {"field": "g", "type": "nominal", "scale": {"domain": ["K1","K2","K3","Kontrolle"], "range": ["#e2a1a4","#dccc97","#e4eb9c","#c6eb9d"]}, "legend": null}}},
    {"data": {"name": "boxes"}, "transform": [{"filter": "datum.p === 'fl24'"}], "mark": {"type": "tick", "size": 26, "thickness": 1},
     "encoding": {"y": {"field": "med", "type": "quantitative", "scale": {"domain": [-3, 14], "nice": false, "zero": false}, "title": "Index (% kolonisierte Fläche 24 Stunden/Baseline)", "axis": {"values": [-3,-2.5,-2,-1.5,-1,-0.5,0,0.5,1,1.5,2,2.5,3,3.5,4,4.5,5,5.5,6,6.5,7,7.5,8,8.5,9,9.5,10,10.5,11,11.5,12,12.5,13,13.5,14], "format": "d", "labelExpr": "datum.value % 1 === 0 ? datum.label : ''", "tickSize": {"condition": {"test": "datum.value % 1 !== 0", "value": 4}, "value": 7}, "grid": false, "labelFont": "Liberation Sans", "labelFontSize": 9.5, "labelColor": "#222222", "labelPadding": 2, "tickColor": "#666666", "domainColor": "#777777", "titleFont": "Liberation Sans", "titleFontSize": 9.5, "titleFontWeight": "normal", "titleColor": "#222222", "titlePadding": 5}},
      "fill": {"field": "g", "type": "nominal", "scale": {"domain": ["K1","K2","K3","Kontrolle"], "range": ["#9d6b6d","#9c8c5c","#93995c","#7f9c62"]}, "legend": null}}},
    {"data": {"values": [{}]}, "mark": {"type": "rule", "color": "#e06a66", "strokeWidth": 1},
     "encoding": {"x": {"datum": "K1", "type": "nominal", "bandPosition": 0}, "x2": {"datum": "Kontrolle", "bandPosition": 1}, "y": {"datum": 1, "type": "quantitative", "scale": {"domain": [-3, 14], "nice": false, "zero": false}, "title": "Index (% kolonisierte Fläche 24 Stunden/Baseline)", "axis": {"values": [-3,-2.5,-2,-1.5,-1,-0.5,0,0.5,1,1.5,2,2.5,3,3.5,4,4.5,5,5.5,6,6.5,7,7.5,8,8.5,9,9.5,10,10.5,11,11.5,12,12.5,13,13.5,14], "format": "d", "labelExpr": "datum.value % 1 === 0 ? datum.label : ''", "tickSize": {"condition": {"test": "datum.value % 1 !== 0", "value": 4}, "value": 7}, "grid": false, "labelFont": "Liberation Sans", "labelFontSize": 9.5, "labelColor": "#222222", "labelPadding": 2, "tickColor": "#666666", "domainColor": "#777777", "titleFont": "Liberation Sans", "titleFontSize": 9.5, "titleFontWeight": "normal", "titleColor": "#222222", "titlePadding": 5}}}},
    {"data": {"name": "points"}, "transform": [{"filter": "datum.p === 'fl24'"}, {"calculate": "round(datum.v / 0.16)", "as": "bin"}, {"window": [{"op": "row_number", "as": "rk"}], "groupby": ["g", "bin"], "sort": [{"field": "v", "order": "ascending"}]}, {"joinaggregate": [{"op": "count", "as": "n"}], "groupby": ["g", "bin"]}, {"calculate": "datum.rk - (datum.n + 1) / 2", "as": "off"}],
     "mark": {"type": "circle", "color": "#000000", "size": 20, "opacity": 1},
     "encoding": {"y": {"field": "v", "type": "quantitative", "scale": {"domain": [-3, 14], "nice": false, "zero": false}, "title": "Index (% kolonisierte Fläche 24 Stunden/Baseline)", "axis": {"values": [-3,-2.5,-2,-1.5,-1,-0.5,0,0.5,1,1.5,2,2.5,3,3.5,4,4.5,5,5.5,6,6.5,7,7.5,8,8.5,9,9.5,10,10.5,11,11.5,12,12.5,13,13.5,14], "format": "d", "labelExpr": "datum.value % 1 === 0 ? datum.label : ''", "tickSize": {"condition": {"test": "datum.value % 1 !== 0", "value": 4}, "value": 7}, "grid": false, "labelFont": "Liberation Sans", "labelFontSize": 9.5, "labelColor": "#222222", "labelPadding": 2, "tickColor": "#666666", "domainColor": "#777777", "titleFont": "Liberation Sans", "titleFontSize": 9.5, "titleFontWeight": "normal", "titleColor": "#222222", "titlePadding": 5}},
      "xOffset": {"field": "off", "type": "quantitative", "scale": {"domain": [-5, 5], "range": [-3.45, 54.65]}}}}
   ]
  },
  {
   "width": 230, "height": 547,
   "title": {"text": "48 Stunden"},
   "encoding": {"x": {"field": "g", "type": "nominal", "title": null, "scale": {"domain": ["K1","K2","K3","Kontrolle"], "paddingInner": 0, "paddingOuter": 0.25}, "axis": {"labelAngle": 0, "tickBand": "extent", "tickSize": 6, "tickColor": "#666666", "domainColor": "#777777", "labelFont": "Liberation Sans", "labelFontSize": 9.5, "labelColor": "#222222", "labelPadding": 3}}},
   "layer": [
    {"data": {"name": "boxes"}, "transform": [{"filter": "datum.p === 'fl48'"}], "mark": {"type": "rule", "color": "#4a4a4a", "strokeWidth": 1},
     "encoding": {"y": {"field": "lo", "type": "quantitative", "scale": {"domain": [-3, 14], "nice": false, "zero": false}, "title": "Index (% kolonisierte Fläche 48 Stunden/Baseline)", "axis": {"values": [-3,-2.5,-2,-1.5,-1,-0.5,0,0.5,1,1.5,2,2.5,3,3.5,4,4.5,5,5.5,6,6.5,7,7.5,8,8.5,9,9.5,10,10.5,11,11.5,12,12.5,13,13.5,14], "format": "d", "labelExpr": "datum.value % 1 === 0 ? datum.label : ''", "tickSize": {"condition": {"test": "datum.value % 1 !== 0", "value": 4}, "value": 7}, "grid": false, "labelFont": "Liberation Sans", "labelFontSize": 9.5, "labelColor": "#222222", "labelPadding": 2, "tickColor": "#666666", "domainColor": "#777777", "titleFont": "Liberation Sans", "titleFontSize": 9.5, "titleFontWeight": "normal", "titleColor": "#222222", "titlePadding": 9}}, "y2": {"field": "hi"}}},
    {"data": {"name": "boxes"}, "transform": [{"filter": "datum.p === 'fl48'"}], "mark": {"type": "tick", "color": "#4a4a4a", "size": 13, "thickness": 1},
     "encoding": {"y": {"field": "lo", "type": "quantitative", "scale": {"domain": [-3, 14], "nice": false, "zero": false}, "title": "Index (% kolonisierte Fläche 48 Stunden/Baseline)", "axis": {"values": [-3,-2.5,-2,-1.5,-1,-0.5,0,0.5,1,1.5,2,2.5,3,3.5,4,4.5,5,5.5,6,6.5,7,7.5,8,8.5,9,9.5,10,10.5,11,11.5,12,12.5,13,13.5,14], "format": "d", "labelExpr": "datum.value % 1 === 0 ? datum.label : ''", "tickSize": {"condition": {"test": "datum.value % 1 !== 0", "value": 4}, "value": 7}, "grid": false, "labelFont": "Liberation Sans", "labelFontSize": 9.5, "labelColor": "#222222", "labelPadding": 2, "tickColor": "#666666", "domainColor": "#777777", "titleFont": "Liberation Sans", "titleFontSize": 9.5, "titleFontWeight": "normal", "titleColor": "#222222", "titlePadding": 9}}}},
    {"data": {"name": "boxes"}, "transform": [{"filter": "datum.p === 'fl48'"}], "mark": {"type": "tick", "color": "#4a4a4a", "size": 13, "thickness": 1},
     "encoding": {"y": {"field": "hi", "type": "quantitative", "scale": {"domain": [-3, 14], "nice": false, "zero": false}, "title": "Index (% kolonisierte Fläche 48 Stunden/Baseline)", "axis": {"values": [-3,-2.5,-2,-1.5,-1,-0.5,0,0.5,1,1.5,2,2.5,3,3.5,4,4.5,5,5.5,6,6.5,7,7.5,8,8.5,9,9.5,10,10.5,11,11.5,12,12.5,13,13.5,14], "format": "d", "labelExpr": "datum.value % 1 === 0 ? datum.label : ''", "tickSize": {"condition": {"test": "datum.value % 1 !== 0", "value": 4}, "value": 7}, "grid": false, "labelFont": "Liberation Sans", "labelFontSize": 9.5, "labelColor": "#222222", "labelPadding": 2, "tickColor": "#666666", "domainColor": "#777777", "titleFont": "Liberation Sans", "titleFontSize": 9.5, "titleFontWeight": "normal", "titleColor": "#222222", "titlePadding": 9}}}},
    {"data": {"name": "boxes"}, "transform": [{"filter": "datum.p === 'fl48'"}], "mark": {"type": "bar", "width": 26, "stroke": "#8a8f96", "strokeWidth": 1},
     "encoding": {"y": {"field": "q1", "type": "quantitative", "scale": {"domain": [-3, 14], "nice": false, "zero": false}, "title": "Index (% kolonisierte Fläche 48 Stunden/Baseline)", "axis": {"values": [-3,-2.5,-2,-1.5,-1,-0.5,0,0.5,1,1.5,2,2.5,3,3.5,4,4.5,5,5.5,6,6.5,7,7.5,8,8.5,9,9.5,10,10.5,11,11.5,12,12.5,13,13.5,14], "format": "d", "labelExpr": "datum.value % 1 === 0 ? datum.label : ''", "tickSize": {"condition": {"test": "datum.value % 1 !== 0", "value": 4}, "value": 7}, "grid": false, "labelFont": "Liberation Sans", "labelFontSize": 9.5, "labelColor": "#222222", "labelPadding": 2, "tickColor": "#666666", "domainColor": "#777777", "titleFont": "Liberation Sans", "titleFontSize": 9.5, "titleFontWeight": "normal", "titleColor": "#222222", "titlePadding": 9}}, "y2": {"field": "q3"},
      "color": {"field": "g", "type": "nominal", "scale": {"domain": ["K1","K2","K3","Kontrolle"], "range": ["#e2a1a4","#dccc97","#e4eb9c","#c6eb9d"]}, "legend": null}}},
    {"data": {"name": "boxes"}, "transform": [{"filter": "datum.p === 'fl48'"}], "mark": {"type": "tick", "size": 26, "thickness": 1},
     "encoding": {"y": {"field": "med", "type": "quantitative", "scale": {"domain": [-3, 14], "nice": false, "zero": false}, "title": "Index (% kolonisierte Fläche 48 Stunden/Baseline)", "axis": {"values": [-3,-2.5,-2,-1.5,-1,-0.5,0,0.5,1,1.5,2,2.5,3,3.5,4,4.5,5,5.5,6,6.5,7,7.5,8,8.5,9,9.5,10,10.5,11,11.5,12,12.5,13,13.5,14], "format": "d", "labelExpr": "datum.value % 1 === 0 ? datum.label : ''", "tickSize": {"condition": {"test": "datum.value % 1 !== 0", "value": 4}, "value": 7}, "grid": false, "labelFont": "Liberation Sans", "labelFontSize": 9.5, "labelColor": "#222222", "labelPadding": 2, "tickColor": "#666666", "domainColor": "#777777", "titleFont": "Liberation Sans", "titleFontSize": 9.5, "titleFontWeight": "normal", "titleColor": "#222222", "titlePadding": 9}},
      "fill": {"field": "g", "type": "nominal", "scale": {"domain": ["K1","K2","K3","Kontrolle"], "range": ["#9d6b6d","#9c8c5c","#93995c","#7f9c62"]}, "legend": null}}},
    {"data": {"values": [{}]}, "mark": {"type": "rule", "color": "#e06a66", "strokeWidth": 1},
     "encoding": {"x": {"datum": "K1", "type": "nominal", "bandPosition": 0}, "x2": {"datum": "Kontrolle", "bandPosition": 1}, "y": {"datum": 1, "type": "quantitative", "scale": {"domain": [-3, 14], "nice": false, "zero": false}, "title": "Index (% kolonisierte Fläche 48 Stunden/Baseline)", "axis": {"values": [-3,-2.5,-2,-1.5,-1,-0.5,0,0.5,1,1.5,2,2.5,3,3.5,4,4.5,5,5.5,6,6.5,7,7.5,8,8.5,9,9.5,10,10.5,11,11.5,12,12.5,13,13.5,14], "format": "d", "labelExpr": "datum.value % 1 === 0 ? datum.label : ''", "tickSize": {"condition": {"test": "datum.value % 1 !== 0", "value": 4}, "value": 7}, "grid": false, "labelFont": "Liberation Sans", "labelFontSize": 9.5, "labelColor": "#222222", "labelPadding": 2, "tickColor": "#666666", "domainColor": "#777777", "titleFont": "Liberation Sans", "titleFontSize": 9.5, "titleFontWeight": "normal", "titleColor": "#222222", "titlePadding": 9}}}},
    {"data": {"name": "points"}, "transform": [{"filter": "datum.p === 'fl48'"}, {"calculate": "round(datum.v / 0.16)", "as": "bin"}, {"window": [{"op": "row_number", "as": "rk"}], "groupby": ["g", "bin"], "sort": [{"field": "v", "order": "ascending"}]}, {"joinaggregate": [{"op": "count", "as": "n"}], "groupby": ["g", "bin"]}, {"calculate": "datum.rk - (datum.n + 1) / 2", "as": "off"}],
     "mark": {"type": "circle", "color": "#000000", "size": 20, "opacity": 1},
     "encoding": {"y": {"field": "v", "type": "quantitative", "scale": {"domain": [-3, 14], "nice": false, "zero": false}, "title": "Index (% kolonisierte Fläche 48 Stunden/Baseline)", "axis": {"values": [-3,-2.5,-2,-1.5,-1,-0.5,0,0.5,1,1.5,2,2.5,3,3.5,4,4.5,5,5.5,6,6.5,7,7.5,8,8.5,9,9.5,10,10.5,11,11.5,12,12.5,13,13.5,14], "format": "d", "labelExpr": "datum.value % 1 === 0 ? datum.label : ''", "tickSize": {"condition": {"test": "datum.value % 1 !== 0", "value": 4}, "value": 7}, "grid": false, "labelFont": "Liberation Sans", "labelFontSize": 9.5, "labelColor": "#222222", "labelPadding": 2, "tickColor": "#666666", "domainColor": "#777777", "titleFont": "Liberation Sans", "titleFontSize": 9.5, "titleFontWeight": "normal", "titleColor": "#222222", "titlePadding": 9}},
      "xOffset": {"field": "off", "type": "quantitative", "scale": {"domain": [-5, 5], "range": [-3.45, 54.65]}}}}
   ]
  }
 ]
}
]
}
